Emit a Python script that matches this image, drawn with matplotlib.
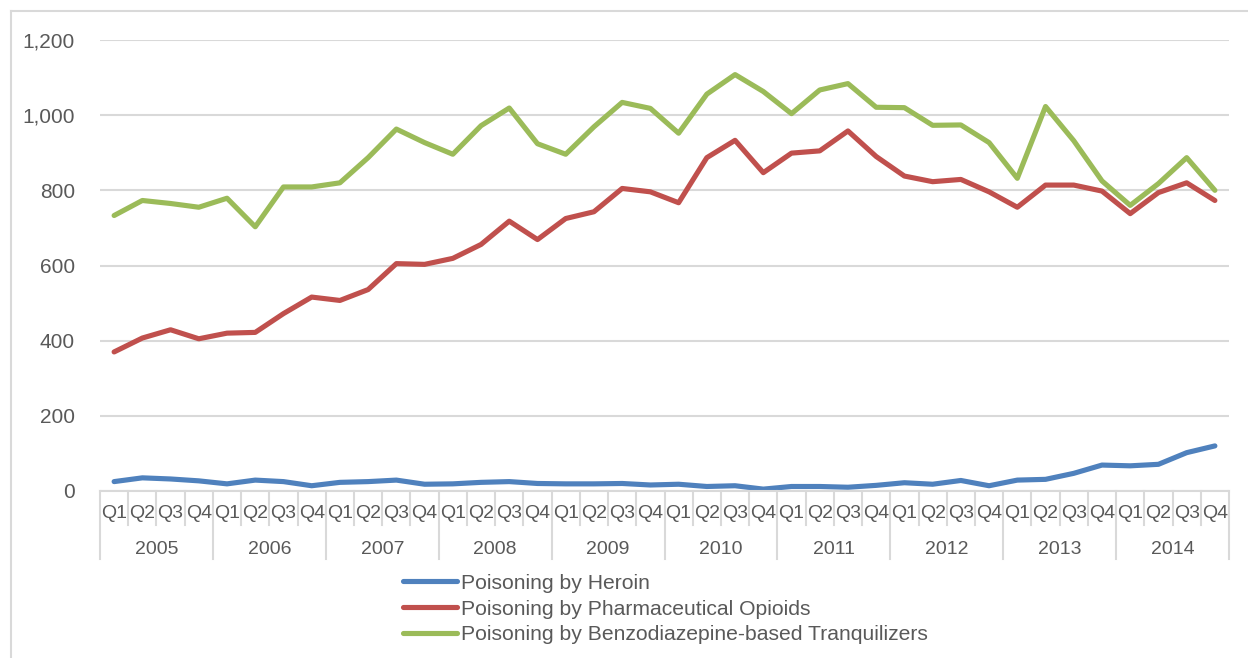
import matplotlib.pyplot as plt
from matplotlib.lines import Line2D
from matplotlib.ticker import FuncFormatter
import matplotlib.transforms as mtransforms

plt.rcParams['font.family'] = ['Liberation Sans', 'DejaVu Sans']

years = ['2005', '2006', '2007', '2008', '2009', '2010', '2011', '2012', '2013', '2014']
quarters = ['Q1', 'Q2', 'Q3', 'Q4']

heroin = [25, 35, 32, 27, 19, 29, 25, 14, 23, 25,
          29, 18, 19, 23, 25, 20, 19, 19, 20, 16,
          18, 12, 14, 5, 12, 12, 10, 15, 22, 18,
          28, 14, 29, 31, 47, 69, 67, 71, 102, 120]
opioids = [370, 407, 429, 405, 420, 422, 472, 516, 507, 536,
           605, 603, 619, 656, 718, 669, 725, 743, 805, 796,
           767, 887, 933, 847, 899, 905, 958, 890, 838, 823,
           829, 796, 755, 814, 814, 798, 738, 794, 820, 773]
benzo = [733, 773, 765, 755, 779, 703, 809, 809, 820, 887,
         963, 927, 896, 972, 1019, 924, 896, 969, 1034, 1018,
         952, 1056, 1108, 1063, 1004, 1067, 1084, 1021, 1020, 973,
         974, 927, 832, 1023, 932, 825, 760, 818, 887, 800]

series_names = ['Poisoning by Heroin',
                'Poisoning by Pharmaceutical Opioids',
                'Poisoning by Benzodiazepine-based Tranquilizers']
colors = ['#4F81BD', '#C0504D', '#9BBB59']
text_col = '#595959'
grid_col = '#D9D9D9'

W, H = 1248, 658
fig = plt.figure(figsize=(W / 100, H / 100), dpi=100)
ax = fig.add_axes([100 / W, (H - 491) / H, 1129 / W, 451 / H])

x = list(range(len(heroin)))
for vals, c, name in zip([heroin, opioids, benzo], colors, series_names):
    ax.plot(x, vals, color=c, lw=3.7, label=name, solid_capstyle='round',
            solid_joinstyle='round')

ax.set_xlim(-0.5, len(x) - 0.5)
ax.set_ylim(0, 1200)
ax.set_yticks(range(0, 1201, 200))
ax.yaxis.set_major_formatter(FuncFormatter(lambda v, p: f'{int(v):,}'))
ax.tick_params(axis='y', length=0, pad=18, labelsize=15, labelcolor=text_col)
ax.grid(axis='y', color=grid_col, lw=1.5)
ax.set_axisbelow(True)
for s in ['top', 'right', 'left']:
    ax.spines[s].set_visible(False)
ax.spines['bottom'].set_color(grid_col)
ax.spines['bottom'].set_linewidth(1.5)
ax.set_xticks([])

# two-level category axis: quarters, then years, with separators
trans = mtransforms.blended_transform_factory(ax.transData, ax.transAxes)
ah = 451.0
for k in range(len(x) + 1):
    depth = 68 if k % 4 == 0 else 34
    ax.add_line(Line2D([k - 0.5, k - 0.5], [0, -depth / ah], transform=trans,
                       color=grid_col, lw=1.5, clip_on=False))
for i in x:
    ax.text(i, -22 / ah, quarters[i % 4], transform=trans, ha='center',
            va='center', fontsize=14, color=text_col)
for j, yr in enumerate(years):
    ax.text(j * 4 + 1.5, -58 / ah, yr, transform=trans, ha='center',
            va='center', fontsize=14, color=text_col)

fig.legend(loc='upper center', bbox_to_anchor=(665 / W, 1 - 563 / H),
           frameon=False, ncol=1, fontsize=15.2, handlelength=2.6,
           handletextpad=0.15, labelspacing=0.33, borderpad=0,
           labelcolor=text_col)

# thin frame around the chart area
fig.add_artist(Line2D([11 / W, 11 / W], [0, 1 - 11 / H], color=grid_col, lw=1.5))
fig.add_artist(Line2D([11 / W, 1], [1 - 11 / H, 1 - 11 / H], color=grid_col, lw=1.5))

fig.savefig('out.png', dpi=100)
